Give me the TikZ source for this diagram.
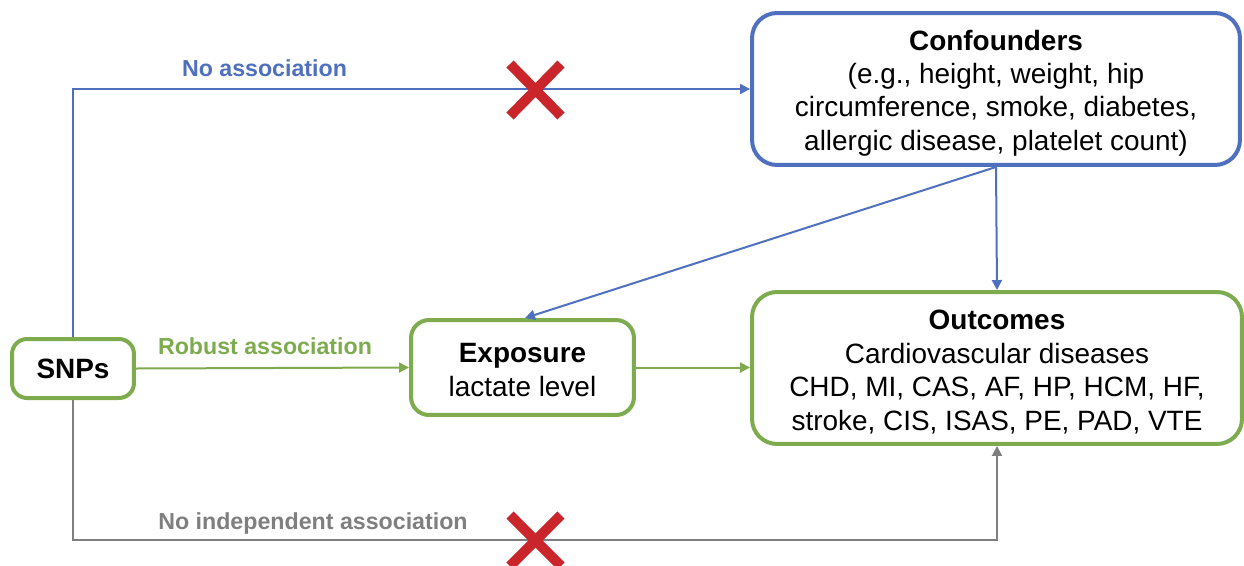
\documentclass[tikz,border=0pt]{standalone}
\usepackage{fontspec}
\setmainfont{Liberation Sans}
\usetikzlibrary{arrows.meta}
\definecolor{cblue}{HTML}{4F6FBF}
\definecolor{cgreen}{HTML}{7DAB4E}
\definecolor{cgray}{HTML}{7F7F7F}
\definecolor{cred}{HTML}{C9252B}
\tikzset{
  box/.style={draw, line width=0.08cm, fill=white, inner sep=0pt},
  boxtext/.style={align=center, inner sep=0pt, font=\fontsize{15.9}{19}\selectfont},
  conn/.style={line width=0.04cm, -{Triangle[length=0.2cm,width=0.2cm]}},
  lbl/.style={font=\fontsize{13.2}{15}\selectfont\bfseries},
  crossline/.style={draw=cred, line width=0.2cm}
}
\begin{document}
\begin{tikzpicture}[x=0.02cm,y=-0.02cm]
\useasboundingbox (0,0) rectangle (1244,565);
\clip (0,0) rectangle (1244,565);
% boxes
\node[box, draw=cgreen, rounded corners=0.3cm, minimum width=2.44cm, minimum height=1.18cm] (snp) at (73,368.5) {};
\node[box, draw=cgreen, rounded corners=0.36cm, minimum width=4.46cm, minimum height=1.9cm] (exp) at (522.5,367.5) {};
\node[box, draw=cblue, rounded corners=0.5cm, minimum width=9.76cm, minimum height=3.04cm] (conf) at (996,89) {};
\node[box, draw=cgreen, rounded corners=0.5cm, minimum width=9.8cm, minimum height=3.04cm] (out) at (997,368) {};
% box texts
\node[boxtext] (snptxt) at (73,368.5) {\textbf{SNPs}};
\node[boxtext] (exptxt) at (522.5,370) {\textbf{Exposure}\\lactate level};
\node[boxtext] (conftxt) at (996,93) {\textbf{Confounders}\\(e.g., height, weight, hip\\circumference, smoke, diabetes,\\allergic disease, platelet count)};
\node[boxtext] (outtxt) at (997,372) {\textbf{Outcomes}\\Cardiovascular diseases\\CHD, MI, CAS, AF, HP, HCM, HF,\\stroke, CIS, ISAS, PE, PAD, VTE};
% coordinates
\coordinate (gl) at (73,540);
\coordinate (gr) at (997,540);
% connectors
\draw[conn, cblue] (snp.north) |- (conf.west);
\draw[conn, cgreen] (snp.east) -- (exp.west);
\draw[conn, cgreen] (exp.east) -- (exp.east -| out.west);
\draw[conn, cblue] (conf.south) -- (out.north);
\draw[conn, cblue] (conf.south) -- ([xshift=0.05cm]exp.north);
\draw[conn, cgray] (snp.south) -- (gl) -- (gr) -- (out.south);
% labels
\node[lbl, text=cblue] (lna) at (264.5,68) {No association};
\node[lbl, text=cgreen] (lra) at (265,346) {Robust association};
\node[lbl, text=cgray] (lni) at (313,523) {No independent association};
% crosses
\draw[crossline] (510,64) -- (561,116);
\draw[crossline] (561,64) -- (510,116);
\draw[crossline] (510,515) -- (561,566);
\draw[crossline] (561,515) -- (510,566);
\end{tikzpicture}
\end{document}
